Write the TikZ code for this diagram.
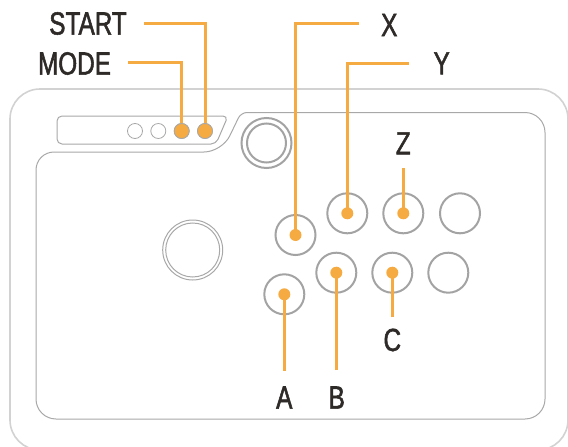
\documentclass[tikz,border=0pt]{standalone}
\usepackage{fontspec}
\newfontfamily\lab[FakeStretch=0.76,FakeBold=1.6]{Liberation Sans}
\definecolor{org}{HTML}{F5AB42}
\definecolor{btn}{HTML}{A3A3A3}
\definecolor{bodyc}{HTML}{D2D2D2}
\definecolor{innc}{HTML}{A8A8A8}
\definecolor{txt}{HTML}{2D2A28}
\tikzset{
  lab/.style={inner sep=0pt, text=txt, font=\lab\fontsize{32}{32}\selectfont},
  bigbtn/.style={circle, draw=btn, line width=2pt, minimum size=40pt, inner sep=0pt},
  smallbtn/.style={circle, draw=innc, line width=0.8pt, minimum size=15pt, inner sep=0pt},
  smallon/.style={smallbtn, fill=org},
  dot/.style={circle, fill=org, minimum size=12pt, inner sep=0pt},
  lead/.style={draw=org, line width=3pt},
}
\begin{document}
\begin{tikzpicture}[x=1pt,y=-1pt]
\useasboundingbox (0,0) rectangle (568,447);
% outer body
\draw[bodyc, line width=1.6pt, rounded corners=30pt] (10,89) rectangle (568,450);
% inner outline
\draw[innc, line width=1pt, rounded corners=18pt]
  (36,300) -- (36,152) -- (222,152) [rounded corners=6pt]-- (241,112.5) [rounded corners=20pt] -- (545,112.5) -- (545,419) -- (36,419) -- (36,300);
% panel
\draw[innc, line width=1pt, rounded corners=5pt]
  (57,130) -- (57,116) -- (228,116) -- (216,144) -- (57,144) -- cycle;
% panel buttons
\node[smallbtn] (p1) at (135,131) {};
\node[smallbtn] (p2) at (158.3,131) {};
\node[smallon] (p3) at (181.7,131) {};
\node[smallon] (p4) at (205,131) {};
% big circle top
\node[circle, draw=btn, line width=2pt, minimum size=50pt, inner sep=0pt] (bc) at (266.5,143) {};
\node[circle, draw=btn, line width=2pt, minimum size=39pt, inner sep=0pt] (bci) at (266.5,143) {};
% stick
\node[circle, draw=innc, line width=1pt, minimum size=60pt, inner sep=0pt] (st) at (192.7,250) {};
\node[circle, draw=innc, line width=1pt, minimum size=54pt, inner sep=0pt] (sti) at (192.7,250) {};
% buttons
\node[bigbtn] (bx) at (295.5,235) {};
\node[bigbtn] (by) at (347.3,213.3) {};
\node[bigbtn] (bz) at (403.3,213.3) {};
\node[bigbtn] (b4) at (460,213.3) {};
\node[bigbtn] (ba) at (284.3,294.3) {};
\node[bigbtn] (bb) at (336.3,272.7) {};
\node[bigbtn] (bcc) at (392.3,272.7) {};
\node[bigbtn] (b8) at (448.3,272.7) {};
% labels
\node[lab] (lstart) at (88,23.5) {START};
\node[lab] (lmode) at (74.5,63.5) {MODE};
\node[lab] (lx) at (389.3,25) {X};
\node[lab] (ly) at (441.7,63.3) {Y};
\node[lab] (lz) at (403.3,143.3) {Z};
\node[lab] (la) at (284.3,397.5) {A};
\node[lab] (lb) at (336.7,397.5) {B};
\node[lab] (lc) at (392.3,340) {C};
% leader ends
\coordinate (estart) at (144,23.3);
\coordinate (emode) at (128,62.7);
\coordinate (ex) at (359,23.3);
\coordinate (ey) at (409,63.3);
\coordinate (ez) at (403.3,168);
\coordinate (ea) at (284.3,370.7);
\coordinate (eb) at (336.3,370);
\coordinate (ec) at (392.3,317.3);
% leaders
\draw[lead] (estart) -| (p4.center);
\draw[lead] (emode) -| (p3.center);
\draw[lead] (ex) -| (bx.center);
\draw[lead] (ey) -| (by.center);
\draw[lead] (ez) -- (bz.center);
\draw[lead] (ea) -- (ba.center);
\draw[lead] (eb) -- (bb.center);
\draw[lead] (ec) -- (bcc.center);
% dots
\node[dot] (dx) at (bx) {};
\node[dot] (dy) at (by) {};
\node[dot] (dz) at (bz) {};
\node[dot] (da) at (ba) {};
\node[dot] (db) at (bb) {};
\node[dot] (dc) at (bcc) {};
% redraw panel orange buttons on top of leaders
\node[smallon] (p3top) at (p3) {};
\node[smallon] (p4top) at (p4) {};
\end{tikzpicture}
\end{document}
